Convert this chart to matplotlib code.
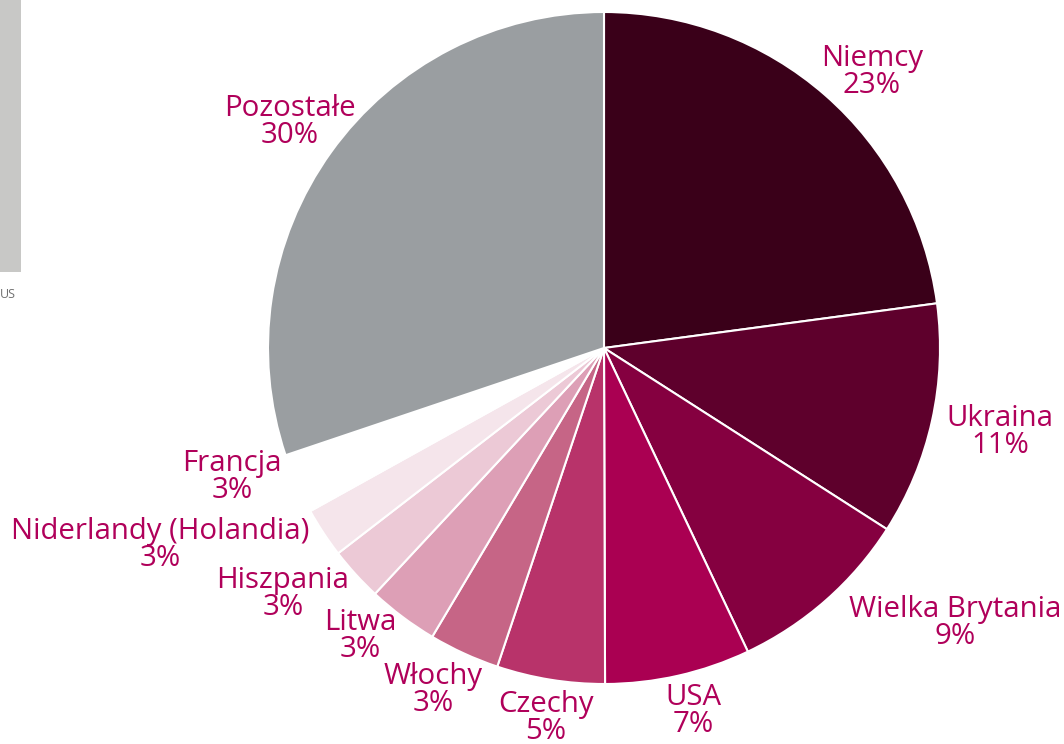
import matplotlib
matplotlib.use("Agg")
import matplotlib.pyplot as plt
from matplotlib.patches import Rectangle

# ---- data ----
countries = ["Niemcy", "Ukraina", "Wielka Brytania", "USA", "Czechy", "Włochy",
             "Litwa", "Hiszpania", "Niderlandy (Holandia)", "Francja", "Pozostałe"]
shares = [22.9, 11.2, 8.9, 7.0, 5.2, 3.4, 3.4, 2.6, 2.4, 2.9, 30.2]
share_labels = ["23%", "11%", "9%", "7%", "5%", "3%", "3%", "3%", "3%", "3%", "30%"]
colors = ["#3a0019", "#5e002c", "#850040", "#aa0052", "#b8336a", "#c66586",
          "#dd9fb6", "#ecc9d6", "#f5e5eb", "#ffffff", "#9a9ea1"]

# ---- layout (pixel coordinates, y from top) ----
W, H = 1064, 744
center = (604, 348)
radius = 336
label_pos = [(872, 72), (1000, 432), (955, 623), (693, 711), (546, 718),
             (433, 690), (360, 636), (283, 594), (160, 545), (232, 477), (290, 122)]
text_color = "#b0005a"
fs = 21.2

fig = plt.figure(figsize=(W / 100, H / 100), dpi=100)
ax = fig.add_axes([0, 0, 1, 1])
ax.set_xlim(0, W)
ax.set_ylim(0, H)
ax.set_aspect("equal")
ax.axis("off")

ax.pie(shares, colors=colors, startangle=90, counterclock=False,
       center=(center[0], H - center[1]), radius=radius,
       wedgeprops=dict(edgecolor="white", linewidth=1.5))
ax.set_xlim(0, W)
ax.set_ylim(0, H)

for name, pct, (x, y) in zip(countries, share_labels, label_pos):
    ax.text(x, H - y, f"{name}\n{pct}", ha="center", va="center",
            color=text_color, fontsize=fs, family="Open Sans", linespacing=0.92)

# cropped neighbouring chart fragment at left
ax.add_patch(Rectangle((0, H - 272), 21, 272, facecolor="#c8c8c6", edgecolor="none"))
ax.text(0, H - 294, "US", fontsize=9, color="#707070", family="Open Sans",
        ha="left", va="center")

fig.savefig("out.png", dpi=100)
